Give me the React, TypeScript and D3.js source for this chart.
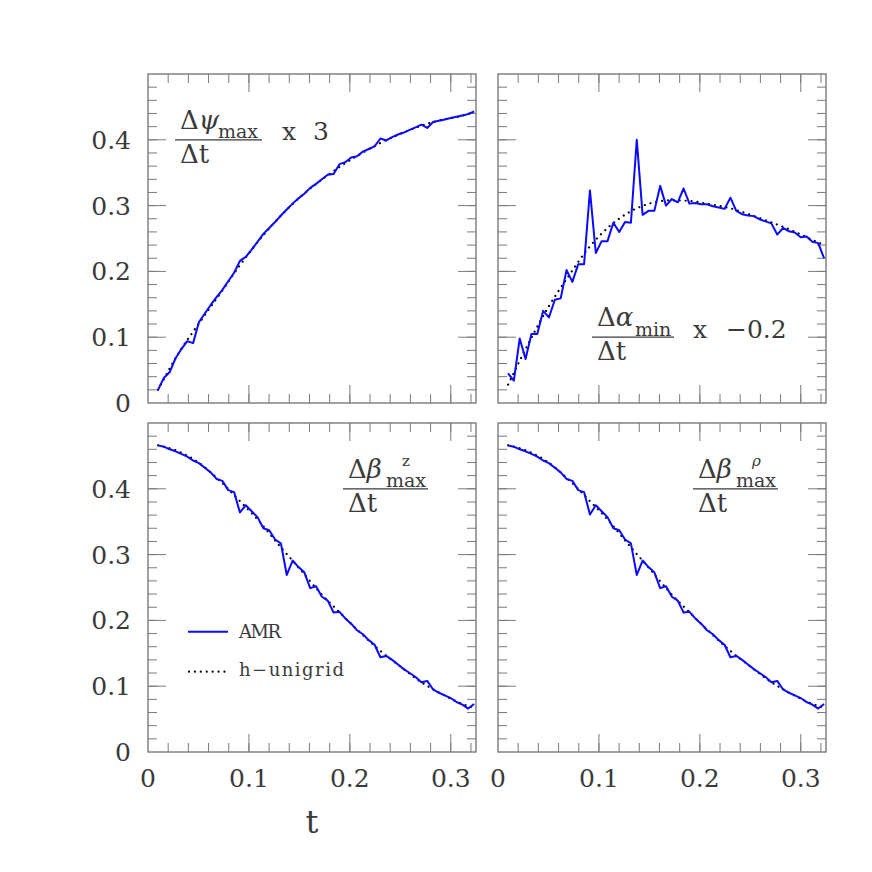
import React from "react";
import * as d3 from "d3";

// ---- data ----
const AMR_T = [
  0.0099, 0.0157, 0.0215, 0.0273, 0.0331, 0.0389, 0.0447, 0.0505, 0.0563, 0.0621,
  0.0679, 0.0737, 0.0795, 0.0853, 0.0911, 0.0969, 0.1027, 0.1085, 0.1143, 0.1201,
  0.1259, 0.1317, 0.1375, 0.1433, 0.1491, 0.1549, 0.1607, 0.1665, 0.1723, 0.1781,
  0.1839, 0.1897, 0.1955, 0.2013, 0.2071, 0.2129, 0.2187, 0.2245, 0.2303, 0.2361,
  0.2419, 0.2477, 0.2535, 0.2593, 0.2651, 0.2709, 0.2767, 0.2825, 0.2883, 0.2941,
  0.2999, 0.3057, 0.3115, 0.3173, 0.3231,
];
const REF_T = [0.01, 0.03, 0.05, 0.07, 0.09, 0.11, 0.13, 0.15, 0.17, 0.19, 0.21, 0.23, 0.25, 0.27, 0.29, 0.31, 0.323];

const PSI_AMR = [
  0.020, 0.038, 0.047, 0.068, 0.082, 0.094, 0.091, 0.123, 0.136, 0.149,
  0.161, 0.172, 0.185, 0.198, 0.216, 0.222, 0.233, 0.245, 0.257, 0.266,
  0.275, 0.285, 0.294, 0.303, 0.311, 0.318, 0.327, 0.333, 0.340, 0.347,
  0.348, 0.363, 0.366, 0.373, 0.375, 0.382, 0.386, 0.390, 0.402, 0.399,
  0.404, 0.408, 0.411, 0.415, 0.419, 0.423, 0.418, 0.427, 0.429, 0.431,
  0.433, 0.435, 0.437, 0.439, 0.443,
];
const PSI_REF = [0.020, 0.075, 0.120, 0.163, 0.207, 0.247, 0.282, 0.312, 0.337, 0.359, 0.378, 0.395, 0.409, 0.421, 0.430, 0.436, 0.442];

const ALPHA_AMR = [
  0.045, 0.034, 0.098, 0.067, 0.105, 0.105, 0.140, 0.130, 0.157, 0.159,
  0.202, 0.184, 0.211, 0.211, 0.323, 0.228, 0.246, 0.246, 0.274, 0.260,
  0.275, 0.274, 0.400, 0.286, 0.292, 0.292, 0.330, 0.300, 0.310, 0.305,
  0.326, 0.303, 0.304, 0.302, 0.302, 0.299, 0.297, 0.295, 0.312, 0.292,
  0.287, 0.285, 0.284, 0.279, 0.276, 0.273, 0.256, 0.266, 0.261, 0.259,
  0.252, 0.253, 0.245, 0.243, 0.220,
];
const ALPHA_REF = [0.028, 0.090, 0.146, 0.193, 0.236, 0.268, 0.290, 0.303, 0.308, 0.307, 0.302, 0.296, 0.286, 0.275, 0.263, 0.249, 0.240];

const BETAZ_AMR = [
  0.466, 0.464, 0.460, 0.457, 0.453, 0.449, 0.443, 0.439, 0.432, 0.425,
  0.415, 0.412, 0.398, 0.395, 0.364, 0.375, 0.366, 0.357, 0.340, 0.337,
  0.323, 0.317, 0.269, 0.291, 0.281, 0.273, 0.249, 0.252, 0.236, 0.230,
  0.212, 0.213, 0.203, 0.195, 0.185, 0.179, 0.170, 0.163, 0.144, 0.146,
  0.140, 0.133, 0.126, 0.120, 0.114, 0.106, 0.108, 0.095, 0.090, 0.086,
  0.082, 0.076, 0.072, 0.066, 0.073,
];
const BETAZ_REF = [0.466, 0.457, 0.440, 0.414, 0.383, 0.351, 0.314, 0.279, 0.243, 0.212, 0.182, 0.154, 0.130, 0.107, 0.089, 0.074, 0.067];

const BETARHO_AMR = [
  0.466, 0.464, 0.460, 0.457, 0.453, 0.449, 0.443, 0.439, 0.432, 0.425,
  0.415, 0.412, 0.398, 0.395, 0.361, 0.375, 0.366, 0.357, 0.340, 0.337,
  0.323, 0.317, 0.269, 0.291, 0.281, 0.273, 0.249, 0.252, 0.236, 0.230,
  0.212, 0.213, 0.203, 0.195, 0.185, 0.179, 0.170, 0.163, 0.144, 0.146,
  0.140, 0.133, 0.126, 0.120, 0.114, 0.106, 0.108, 0.095, 0.090, 0.086,
  0.082, 0.076, 0.072, 0.066, 0.073,
];
const BETARHO_REF = [0.466, 0.457, 0.440, 0.414, 0.383, 0.351, 0.314, 0.279, 0.243, 0.212, 0.182, 0.154, 0.130, 0.107, 0.089, 0.074, 0.067];

const X_TICK_LABELS = ["0", "0.1", "0.2", "0.3"];
const X_MAJOR = [0, 0.1, 0.2, 0.3];
const Y_TICK_LABELS = ["0", "0.1", "0.2", "0.3", "0.4"];
const Y_MAJOR = [0, 0.1, 0.2, 0.3, 0.4];
const LEGEND_LABELS = ["AMR", "h\u2212unigrid"];
const X_AXIS_LABEL = "t";

// ---- layout ----
const W = 328;
const H = 329;
const X_DOMAIN = [0, 0.325];
const Y_DOMAIN = [0, 0.5];
const FONT = "'DejaVu Serif', serif";
const FRAME = "#7a7a7a";
const TEXT = "#3a3a3a";
const BLUE = "#0a0aff";

type Pt = [number, number];

function Panel(props: {
  id: string;
  px: number;
  py: number;
  amr: number[];
  ref: number[];
  yLabels: boolean;
  xLabels: boolean;
  children?: React.ReactNode;
}) {
  const { id, px, py, amr, ref, yLabels, xLabels } = props;
  const xs = d3.scaleLinear().domain(X_DOMAIN).range([px, px + W]);
  const ys = d3.scaleLinear().domain(Y_DOMAIN).range([py + H, py]);
  const line = d3.line<Pt>().x((d) => xs(d[0])).y((d) => ys(d[1]));
  const smooth = d3
    .line<Pt>()
    .x((d) => xs(d[0]))
    .y((d) => ys(d[1]))
    .curve(d3.curveMonotoneX);
  const amrPts: Pt[] = AMR_T.map((t, i) => [t, amr[i]]);
  const refPts: Pt[] = REF_T.map((t, i) => [t, ref[i]]);

  const minorX = d3.range(0.02, 0.3249, 0.02);
  const minorY = d3.range(0.02, 0.499, 0.02);
  const majLen = 18;
  const minLen = 9;
  const tickStroke = { stroke: FRAME, strokeWidth: 1 };

  return (
    <g>
      <defs>
        <clipPath id={`clip-${id}`}>
          <rect x={px} y={py} width={W} height={H} />
        </clipPath>
      </defs>
      {minorX.map((t, i) => (
        <g key={`mx${i}`} {...tickStroke}>
          <line x1={xs(t)} x2={xs(t)} y1={py + H} y2={py + H - minLen} />
          <line x1={xs(t)} x2={xs(t)} y1={py} y2={py + minLen} />
        </g>
      ))}
      {X_MAJOR.slice(1).map((t, i) => (
        <g key={`Mx${i}`} {...tickStroke}>
          <line x1={xs(t)} x2={xs(t)} y1={py + H} y2={py + H - majLen} />
          <line x1={xs(t)} x2={xs(t)} y1={py} y2={py + majLen} />
        </g>
      ))}
      {minorY.map((v, i) => (
        <g key={`my${i}`} {...tickStroke}>
          <line x1={px} x2={px + minLen} y1={ys(v)} y2={ys(v)} />
          <line x1={px + W} x2={px + W - minLen} y1={ys(v)} y2={ys(v)} />
        </g>
      ))}
      {Y_MAJOR.slice(1).map((v, i) => (
        <g key={`My${i}`} {...tickStroke}>
          <line x1={px} x2={px + majLen} y1={ys(v)} y2={ys(v)} />
          <line x1={px + W} x2={px + W - majLen} y1={ys(v)} y2={ys(v)} />
        </g>
      ))}
      <rect x={px} y={py} width={W} height={H} fill="none" stroke={FRAME} strokeWidth={1.4} />
      <g clipPath={`url(#clip-${id})`}>
        <path
          d={smooth(refPts) || ""}
          fill="none"
          stroke="#000"
          strokeWidth={2.2}
          strokeDasharray="0.01 5.9"
          strokeLinecap="round"
        />
        <path d={line(amrPts) || ""} fill="none" stroke={BLUE} strokeWidth={2} strokeLinejoin="round" />
      </g>
      {yLabels &&
        Y_MAJOR.map((v, i) => (
          <text
            key={`yl${i}`}
            x={px - 17}
            y={ys(v) + 9}
            textAnchor="end"
            fontSize={25}
            fill={TEXT}
            fontFamily={FONT}
          >
            {Y_TICK_LABELS[i]}
          </text>
        ))}
      {xLabels &&
        X_MAJOR.map((t, i) => (
          <text
            key={`xl${i}`}
            x={xs(t)}
            y={py + H + 35}
            textAnchor="middle"
            fontSize={25}
            fill={TEXT}
            fontFamily={FONT}
          >
            {X_TICK_LABELS[i]}
          </text>
        ))}
      <g transform={`translate(${px},${py})`}>{props.children}</g>
    </g>
  );
}

// fraction label; ly = y of the fraction bar (panel-relative)
function Frac(props: {
  x: number;
  ly: number;
  greek: string;
  sub: string;
  sup?: string;
  subX: number;
  supX?: number;
  lineW: number;
}) {
  const { x, ly, greek, sub, sup, subX, supX, lineW } = props;
  return (
    <g fontFamily={FONT} fill={TEXT}>
      <text x={x} y={ly - 11} fontSize={26}>
        {"\u0394"}
        <tspan fontStyle="italic">{greek}</tspan>
      </text>
      <text x={x + subX} y={ly - 1.5} fontSize={19}>
        {sub}
      </text>
      {sup && (
        <text
          x={x + (supX ?? subX + 15)}
          y={ly - 23}
          fontSize={15}
          fontStyle={sup === "\u03C1" ? "italic" : "normal"}
        >
          {sup}
        </text>
      )}
      <line x1={x - 5} x2={x - 5 + lineW} y1={ly} y2={ly} stroke={TEXT} strokeWidth={1.2} />
      <text x={x} y={ly + 23} fontSize={26}>
        {"\u0394t"}
      </text>
    </g>
  );
}

export default function App() {
  // fraction bars sit on data levels: 0.4 (top-left, bottom panels), 0.1 (top-right)
  const barY = (v: number) => H - (v / Y_DOMAIN[1]) * H;
  return (
    <div style={{ position: "absolute", left: 0, top: 0 }}>
      <svg width={872} height={872} style={{ display: "block", background: "#fff" }}>
        <rect width={872} height={872} fill="#fff" />
        <Panel id="tl" px={148} py={74} amr={PSI_AMR} ref={PSI_REF} yLabels={true} xLabels={false}>
          <Frac x={32} ly={barY(0.4)} greek={"\u03C8"} sub="max" subX={38} lineW={87} />
          <text x={134} y={barY(0.4) + 0.5} fontSize={25} fill={TEXT} fontFamily={FONT}>
            x
          </text>
          <text x={165} y={barY(0.4) + 0.5} fontSize={25} fill={TEXT} fontFamily={FONT}>
            3
          </text>
        </Panel>
        <Panel id="tr" px={498} py={74} amr={ALPHA_AMR} ref={ALPHA_REF} yLabels={false} xLabels={false}>
          <Frac x={99} ly={barY(0.1)} greek={"\u03B1"} sub="min" subX={38} lineW={82} />
          <text x={195} y={barY(0.1) + 0.5} fontSize={25} fill={TEXT} fontFamily={FONT}>
            x
          </text>
          <text x={228} y={barY(0.1) + 0.5} fontSize={25} fill={TEXT} fontFamily={FONT}>
            {"\u22120.2"}
          </text>
        </Panel>
        <Panel id="bl" px={148} py={423} amr={BETAZ_AMR} ref={BETAZ_REF} yLabels={true} xLabels={true}>
          <Frac x={200} ly={barY(0.4)} greek={"\u03B2"} sub="max" sup="z" subX={38} supX={54} lineW={85} />
          <g fontFamily={FONT} fill={TEXT}>
            <line x1={40} x2={80} y1={208.7} y2={208.7} stroke={BLUE} strokeWidth={2} />
            <text x={91} y={215} fontSize={18} textLength={42} lengthAdjust="spacing">
              {LEGEND_LABELS[0]}
            </text>
            <line
              x1={41}
              x2={80}
              y1={248.7}
              y2={248.7}
              stroke="#000"
              strokeWidth={2.2}
              strokeDasharray="0.01 5.9"
              strokeLinecap="round"
            />
            <text x={91} y={253} fontSize={18} textLength={105} lengthAdjust="spacing">
              {LEGEND_LABELS[1]}
            </text>
          </g>
        </Panel>
        <Panel id="br" px={498} py={423} amr={BETARHO_AMR} ref={BETARHO_REF} yLabels={false} xLabels={true}>
          <Frac x={200} ly={barY(0.4)} greek={"\u03B2"} sub="max" sup={"\u03C1"} subX={38} supX={54} lineW={85} />
        </Panel>
        <text x={312} y={833} textAnchor="middle" fontSize={32} fill={TEXT} fontFamily={FONT}>
          {X_AXIS_LABEL}
        </text>
      </svg>
    </div>
  );
}
